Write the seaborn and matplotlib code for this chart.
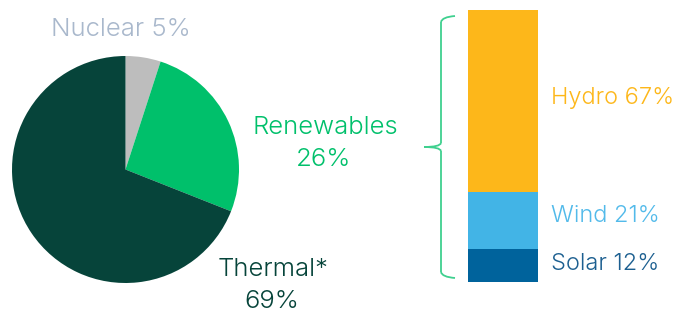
import matplotlib
matplotlib.use("Agg")
import matplotlib.pyplot as plt
import seaborn as sns
import pandas as pd
from matplotlib.path import Path
from matplotlib.patches import PathPatch

# data
mix_labels = ["Nuclear", "Renewables", "Thermal*"]
mix_values = [5, 26, 69]
mix_colors = ["#bdbdbd", "#00c06b", "#06443a"]

ren_labels = ["Hydro", "Wind", "Solar"]
ren_values = [67, 21, 12]
ren_colors = ["#fdb71a", "#42b4e6", "#00639c"]
ren_text_colors = ["#fdb71a", "#52baea", "#1c5f90"]

sns.set_theme(style="white")
plt.rcParams["font.family"] = ["Inter", "DejaVu Sans"]

W, H = 677, 315
fig = plt.figure(figsize=(W / 100, H / 100), dpi=100)

def px_axes(x0, y0, x1, y1):
    # pixel box (top-left origin) -> figure axes
    return fig.add_axes([x0 / W, 1 - y1 / H, (x1 - x0) / W, (y1 - y0) / H])

# pie
ax_pie = px_axes(12, 56, 239, 283)
ax_pie.pie(mix_values, colors=mix_colors, startangle=90, counterclock=False,
           wedgeprops=dict(linewidth=0))
ax_pie.set_xlim(-1, 1)
ax_pie.set_ylim(-1, 1)
ax_pie.set_aspect("equal")
ax_pie.axis("off")

# stacked bar (cumulative layers drawn with seaborn)
ax_bar = px_axes(468, 10, 538, 282)
df = pd.DataFrame({"label": ren_labels, "value": ren_values})
cum = df["value"][::-1].cumsum()[::-1].tolist()
for i, c in enumerate(ren_colors):
    sns.barplot(x=[0], y=[cum[i]], color=c, width=1.0, ax=ax_bar,
                saturation=1, edgecolor="none", linewidth=0)
ax_bar.set_xlim(-0.5, 0.5)
ax_bar.set_ylim(0, 100)
ax_bar.axis("off")

# overlay for texts and brace
ov = fig.add_axes([0, 0, 1, 1])
ov.set_xlim(0, W)
ov.set_ylim(H, 0)
ov.axis("off")

fs_pie = 18.5
fs_bar = 17
wt = 300
ov.text(121, 30, f"{mix_labels[0]} {mix_values[0]}%", color="#a9b8cc",
        fontsize=fs_pie, fontweight=wt, ha="center", va="center")
ov.text(325, 128, mix_labels[1], color=mix_colors[1], fontsize=fs_pie, fontweight=wt,
        ha="center", va="center")
ov.text(324, 160, f"{mix_values[1]}%", color=mix_colors[1], fontsize=fs_pie, fontweight=wt,
        ha="center", va="center")
ov.text(273, 270, mix_labels[2], color=mix_colors[2], fontsize=fs_pie, fontweight=wt,
        ha="center", va="center")
ov.text(272, 302, f"{mix_values[2]}%", color=mix_colors[2], fontsize=fs_pie, fontweight=wt,
        ha="center", va="center")

label_y = [98, 216, 264]
for lab, v, tc, y in zip(ren_labels, ren_values, ren_text_colors, label_y):
    ov.text(551, y, f"{lab} {v}%", color=tc, fontsize=fs_bar, fontweight=wt,
            ha="left", va="center")

# curly brace
bx_end, bx_mid, bx_tip = 455, 441, 424
yt, ym, yb = 16, 147, 278
segs = [
    [(bx_end, yt), (bx_mid + 1, yt + 1), (bx_mid, yt + 6)],
    [(bx_mid, yt + 6), (bx_mid, ym - 4)],
    [(bx_mid, ym - 4), (bx_mid - 1, ym), (bx_tip, ym)],
    [(bx_tip, ym), (bx_mid - 1, ym), (bx_mid, ym + 4)],
    [(bx_mid, ym + 4), (bx_mid, yb - 6)],
    [(bx_mid, yb - 6), (bx_mid + 1, yb - 1), (bx_end, yb)],
]
for s in segs:
    if len(s) == 3:
        p = Path(s, [Path.MOVETO, Path.CURVE3, Path.CURVE3])
    else:
        p = Path(s, [Path.MOVETO, Path.LINETO])
    ov.add_patch(PathPatch(p, fill=False, edgecolor="#3fd08f", linewidth=1.3))

fig.savefig("out.png", dpi=100)
